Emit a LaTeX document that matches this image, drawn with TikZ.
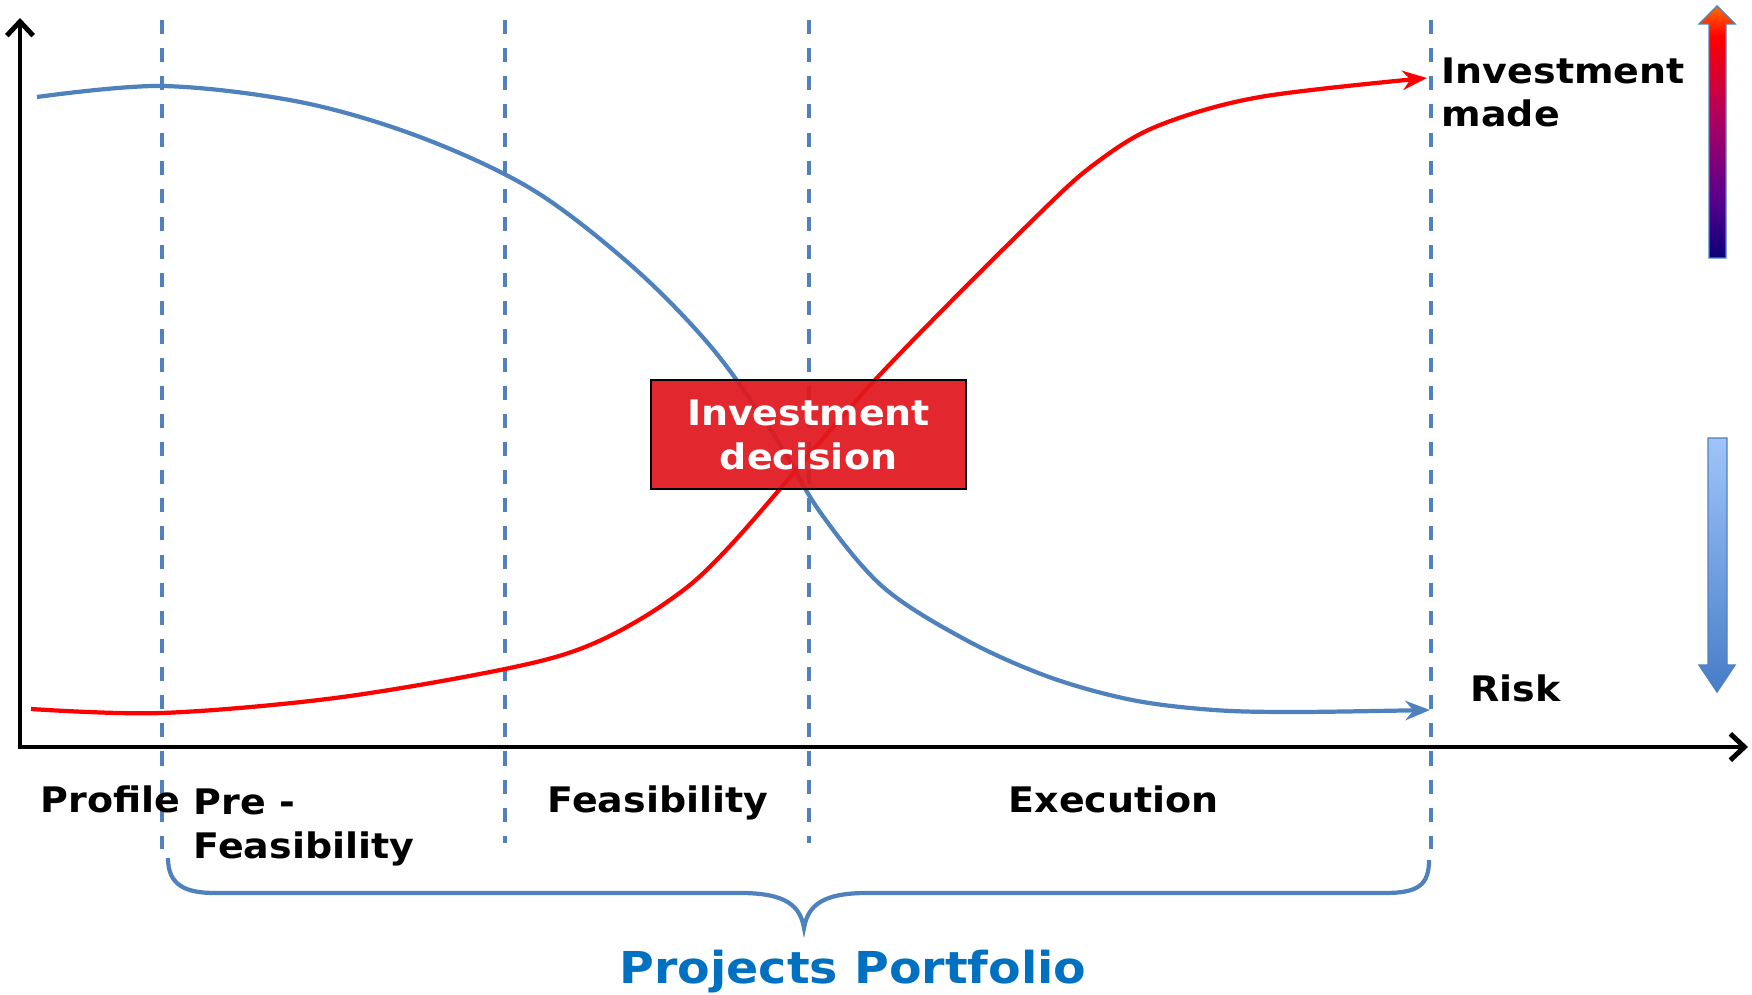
\documentclass[tikz,border=0pt]{standalone}
\usepackage{fontspec}
\setmainfont{DejaVu Sans}[FakeStretch=1.08]
\usetikzlibrary{arrows.meta}

\definecolor{riskblue}{RGB}{79,129,189}
\definecolor{decisionred}{RGB}{224,24,30}
\definecolor{portfolioblue}{RGB}{0,112,192}
\definecolor{upnavy}{RGB}{10,0,120}
\definecolor{uppurple}{RGB}{90,0,140}
\definecolor{upmag}{RGB}{170,0,100}
\definecolor{uporange}{RGB}{255,110,0}
\definecolor{downlight}{RGB}{160,196,250}
\definecolor{downdark}{RGB}{70,125,200}
\pgfdeclareverticalshading{investshade}{100bp}{color(0bp)=(upnavy); color(25bp)=(upnavy); color(37bp)=(uppurple); color(52bp)=(upmag); color(69bp)=(red); color(75bp)=(uporange); color(100bp)=(uporange)}

\tikzset{
  phase/.style={riskblue, line width=1.1pt, dash pattern=on 4pt off 4pt},
  curve/.style={line width=1.2pt, -{Stealth[length=7pt,width=5.5pt]}},
  lbl/.style={font=\fontsize{10}{12.5}\selectfont\bfseries, inner sep=0pt, align=left},
}

\begin{document}
\begin{tikzpicture}[x=0.01cm, y=-0.01cm]
    \useasboundingbox (0,0) rectangle (1752,995);

    % Phases
    \foreach \x/\ylow in {162/849, 505/843, 809/843, 1431/849}
        \draw[phase] (\x,20) -- (\x,\ylow);

    % Risk
    \draw[riskblue, curve] plot[smooth, tension=0.55] coordinates {(37,97) (162,86) (300,102) (420,137) (533,190) (633,267) (712,348) (774,435) (820,512) (883,587) (966,640) (1049,677) (1132,700) (1214,710) (1297,712) (1430,710)};

    % Investment made
    \draw[red, curve] plot[smooth, tension=0.55] coordinates {(31,709) (162,713) (335,698) (505,669) (590,645) (667,602) (730,546) (875,380) (1040,213) (1100,160) (1160,125) (1260,97) (1427,78)};

    \node[draw=black, line width=0.6pt, fill=decisionred, fill opacity=0.93, text opacity=1, text=white, lbl, align=center, minimum width=3.15cm, minimum height=1.09cm] (decision) at (808.5,434.5) {Investment\\decision};

    % Axes
    \draw[line width=1.4pt, {Straight Barb[length=4pt,width=7.5pt]}-{Straight Barb[length=4pt,width=7.5pt]}] (20,18) -- (20,747) -- (1748,747);

    \node[lbl, anchor=base west] (made) at (1441,127) {Investment\\made};
    \node[lbl, anchor=base west] (risk) at (1470,702) {Risk};

    \node[lbl, anchor=base west] (profile) at (40,813) {Profile};
    \node[lbl, anchor=base west] (prefeas) at (193,858) {Pre -\\Feasibility};
    \node[lbl, anchor=base west] (feas) at (547,813) {Feasibility};
    \node[lbl, anchor=base west] (exec) at (1008,813) {Execution};

    % Portfolio brace
    \draw[riskblue, line width=1.2pt] (168,858) .. controls (168,885) and (185,893) .. (215,893) -- (740,893) .. controls (785,893) and (800,905) .. (804,928) .. controls (808,905) and (823,893) .. (867,893) -- (1385,893) .. controls (1418,893) and (1429,885) .. (1429,860);
    \node[font=\fontsize{12.5}{15}\selectfont\bfseries, text=portfolioblue, inner sep=0pt, anchor=base] (portfolio) at (853,983) {Projects Portfolio};

    % Trend arrows
    \shade[shading=investshade, draw=riskblue, line width=0.4pt] (1709,258) -- (1709,24) -- (1699,24) -- (1717,6) -- (1735,24) -- (1726,24) -- (1726,258) -- cycle;
    \shade[top color=downlight, bottom color=downdark, draw=riskblue, line width=0.4pt] (1708,438) -- (1727,438) -- (1727,665) -- (1735,665) -- (1717,692) -- (1699,665) -- (1708,665) -- cycle;
\end{tikzpicture}
\end{document}
